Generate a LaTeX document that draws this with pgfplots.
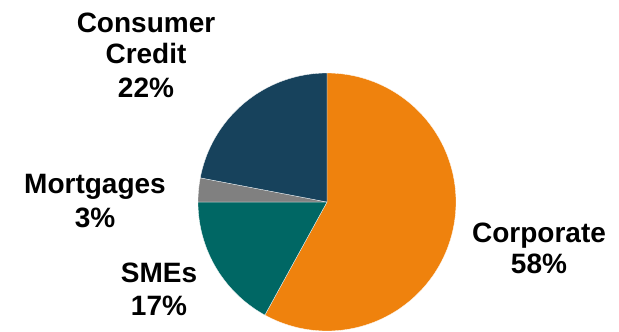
\documentclass[border=0pt]{standalone}
\usepackage{pgfplots}
\pgfplotsset{compat=1.18}
\usepackage{fontspec}
\setmainfont{Liberation Sans}
\definecolor{corp}{HTML}{EF820D}
\definecolor{smes}{HTML}{006764}
\definecolor{mort}{HTML}{808080}
\definecolor{cons}{HTML}{17425C}
\tikzset{lbl/.style={anchor=base,font=\fontsize{28bp}{32bp}\selectfont\bfseries,inner sep=0pt}}
% shares in percent
\def\pCorp{58}
\def\pSME{17}
\def\pMort{3}
\def\pCons{22}
\pgfmathsetmacro{\aA}{90}
\pgfmathsetmacro{\aB}{\aA-3.6*\pCorp}
\pgfmathsetmacro{\aC}{\aB-3.6*\pSME}
\pgfmathsetmacro{\aD}{\aC-3.6*\pMort}
\pgfmathsetmacro{\aE}{\aD-3.6*\pCons}
\begin{document}
\begin{tikzpicture}
\begin{axis}[width=619bp,height=331bp,scale only axis,
  xmin=-327,xmax=292,ymin=-129,ymax=202,hide axis,clip=false,
  samples=120]
\def\R{129}
\addplot[fill=corp, draw=white, line width=0.3pt, domain=\aB:\aA, variable=\t] ({\R*cos(\t)},{\R*sin(\t)}) -- (axis cs:0,0) -- cycle;
\addplot[fill=smes, draw=white, line width=0.3pt, domain=\aC:\aB, variable=\t] ({\R*cos(\t)},{\R*sin(\t)}) -- (axis cs:0,0) -- cycle;
\addplot[fill=mort, draw=white, line width=0.3pt, domain=\aD:\aC, variable=\t] ({\R*cos(\t)},{\R*sin(\t)}) -- (axis cs:0,0) -- cycle;
\addplot[fill=cons, draw=white, line width=0.3pt, domain=\aE:\aD, variable=\t] ({\R*cos(\t)},{\R*sin(\t)}) -- (axis cs:0,0) -- cycle;
\node[lbl] at (axis cs:-181,170) {Consumer};
\node[lbl] at (axis cs:-181,139) {Credit};
\node[lbl] at (axis cs:-181,105) {\pCons\%};
\node[lbl] at (axis cs:-232,9) {Mortgages};
\node[lbl] at (axis cs:-232,-25) {\pMort\%};
\node[lbl] at (axis cs:-168,-80) {SMEs};
\node[lbl] at (axis cs:-168,-113) {\pSME\%};
\node[lbl] at (axis cs:212,-40) {Corporate};
\node[lbl] at (axis cs:212,-71) {\pCorp\%};
\path (rel axis cs:0,0) rectangle (rel axis cs:1,1);
\end{axis}
\end{tikzpicture}
\end{document}
